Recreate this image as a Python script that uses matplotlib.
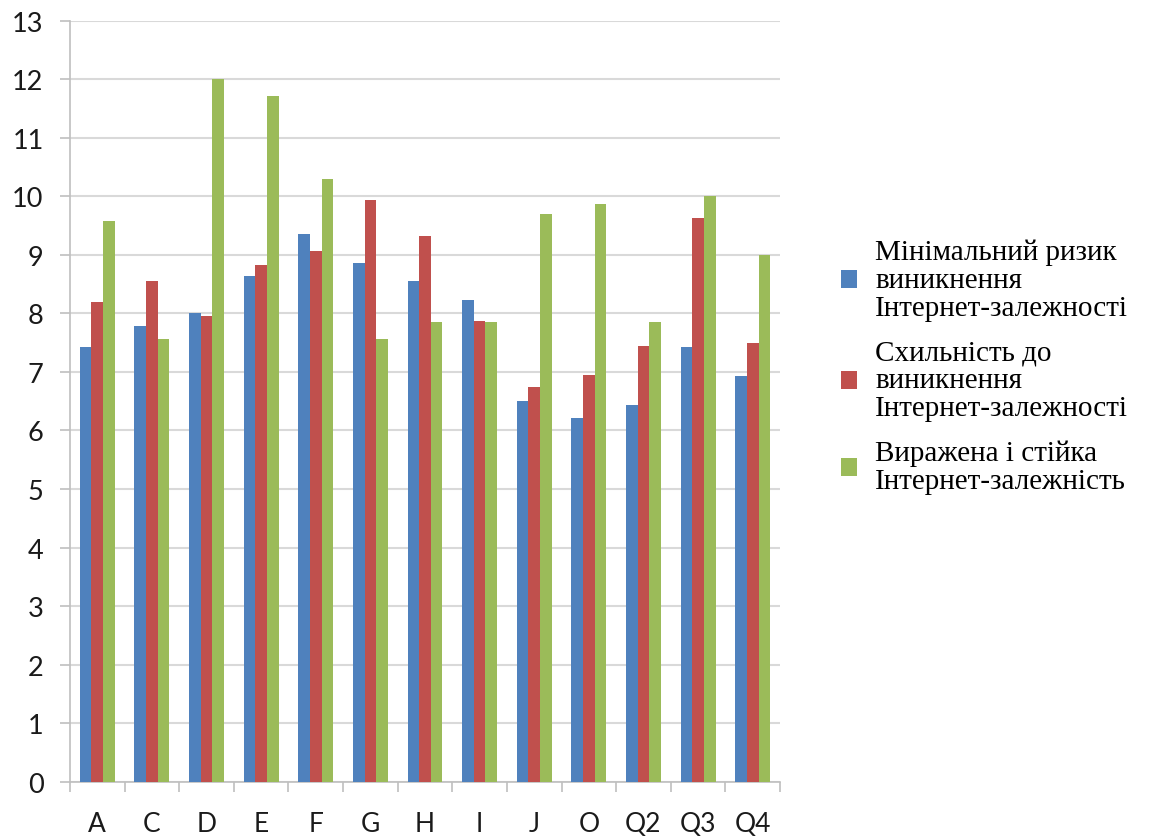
import numpy as np
import matplotlib
matplotlib.use("Agg")
import matplotlib.pyplot as plt
from matplotlib.patches import Patch

categories = ["A", "C", "D", "E", "F", "G", "H", "I", "J", "O", "Q2", "Q3", "Q4"]
minimal_risk = [7.43, 7.78, 8.01, 8.64, 9.36, 8.86, 8.56, 8.22, 6.50, 6.21, 6.43, 7.43, 6.93]
tendency = [8.20, 8.56, 7.95, 8.82, 9.07, 9.93, 9.32, 7.87, 6.75, 6.94, 7.44, 9.63, 7.49]
pronounced = [9.57, 7.57, 12.0, 11.72, 10.29, 7.57, 7.86, 7.86, 9.70, 9.86, 7.86, 10.0, 9.0]

series_names = [
    "Мінімальний ризик\nвиникнення\nІнтернет-залежності",
    "Схильність до\nвиникнення\nІнтернет-залежності",
    "Виражена і стійка\nІнтернет-залежність",
]
colors = ["#4F81BD", "#C0504D", "#9BBB59"]

fig = plt.figure(figsize=(11.58, 8.37), dpi=100)
ax = fig.add_axes([0.0604, 0.0649, 0.6132, 0.9092])

x = np.arange(len(categories))
w = 0.213
for i, vals in enumerate([minimal_risk, tendency, pronounced]):
    ax.bar(x + (i - 1) * w, vals, width=w, color=colors[i], zorder=3)

ax.set_xlim(-0.5, len(categories) - 0.5)
ax.set_ylim(0, 13)
ax.set_yticks(range(0, 14))
ax.grid(axis="y", color="#d9d9d9", linewidth=1.5, zorder=0)

# ticks at category boundaries, labels at centers
ax.set_xticks(np.arange(-0.5, len(categories)), minor=False)
ax.set_xticklabels([])
ax.set_xticks(x, minor=True)
ax.set_xticklabels(categories, minor=True)
ax.tick_params(axis="x", which="major", length=7, width=1.2, color="#bfbfbf", direction="out")
ax.tick_params(axis="x", which="minor", length=0, pad=21, labelsize=19)
ax.tick_params(axis="y", length=7, width=1.2, color="#bfbfbf", pad=12, labelsize=19.5)
for lab in ax.get_xticklabels(minor=True) + ax.get_yticklabels():
    lab.set_fontfamily("Lato")
    lab.set_color("#1a1a1a")

for s in ["top", "right"]:
    ax.spines[s].set_visible(False)
for s in ["left", "bottom"]:
    ax.spines[s].set_color("#bfbfbf")
    ax.spines[s].set_linewidth(1.2)

handles = [Patch(facecolor=c, edgecolor="none") for c in colors]
leg = fig.legend(handles, series_names, loc="upper left",
                 bbox_to_anchor=(841 / 1158, 1 - 239 / 837),
                 frameon=False, borderpad=0, borderaxespad=0,
                 handlelength=0.55, handleheight=0.55, handletextpad=0.62,
                 labelspacing=0.64,
                 prop={"family": "Liberation Serif", "size": 21})
for t in leg.get_texts():
    t.set_linespacing(1.1)

fig.savefig("out.png", dpi=100, facecolor="white")
